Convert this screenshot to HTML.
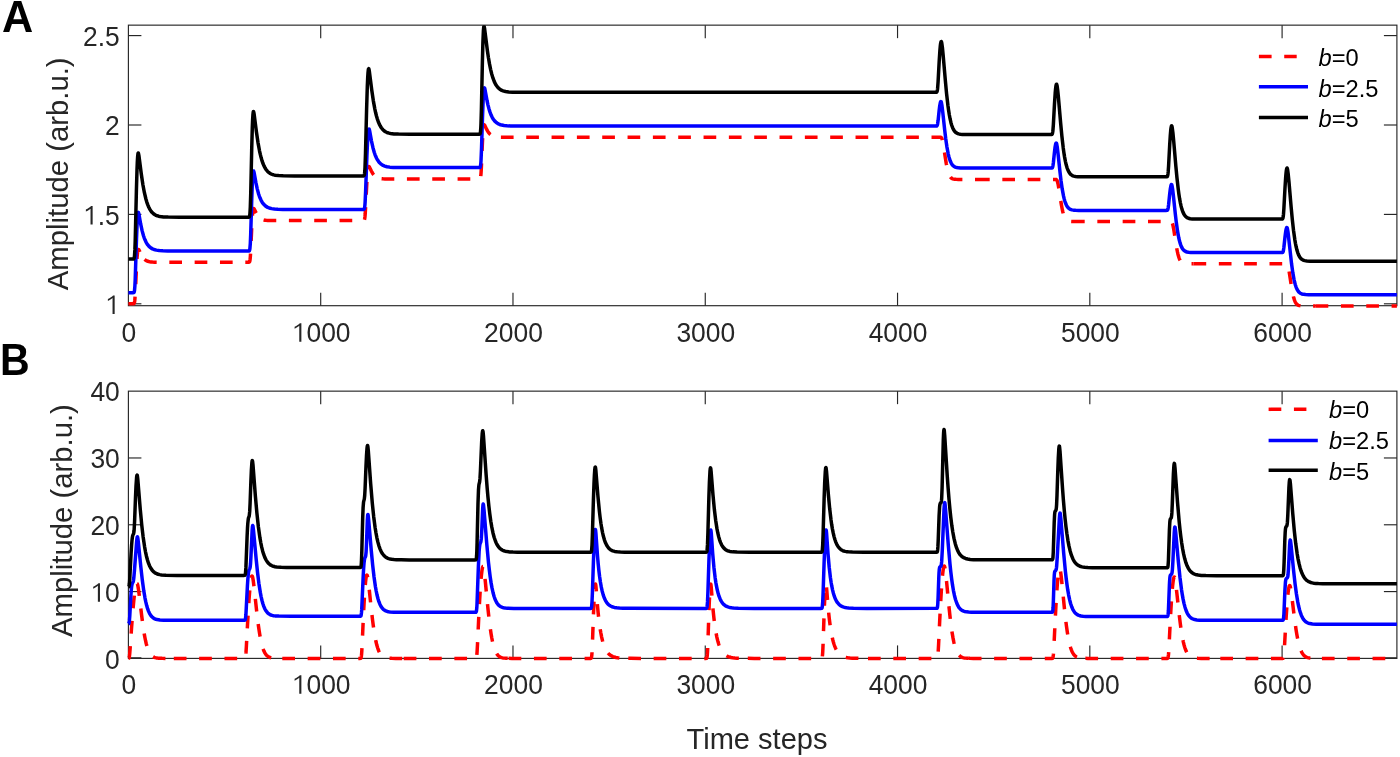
<!DOCTYPE html>
<html><head><meta charset="utf-8"><style>
html,body{margin:0;padding:0;background:#fff;width:1400px;height:757px;overflow:hidden}
svg{display:block;will-change:transform}
text{font-family:"Liberation Sans",sans-serif}
</style></head><body>
<svg width="1400" height="757" viewBox="0 0 1400 757">
<rect width="1400" height="757" fill="#fff"/>
<g>
<defs><clipPath id="cA"><rect x="126.40" y="25.15" width="1272.50" height="283.55"/></clipPath>
<clipPath id="cB"><rect x="126.40" y="391.15" width="1272.50" height="270.25"/></clipPath></defs>
<g stroke="#262626" stroke-width="1.15" fill="none"><line x1="320.70" y1="305.70" x2="320.70" y2="292.70"/><line x1="320.70" y1="25.15" x2="320.70" y2="38.15"/><line x1="512.98" y1="305.70" x2="512.98" y2="292.70"/><line x1="512.98" y1="25.15" x2="512.98" y2="38.15"/><line x1="705.26" y1="305.70" x2="705.26" y2="292.70"/><line x1="705.26" y1="25.15" x2="705.26" y2="38.15"/><line x1="897.54" y1="305.70" x2="897.54" y2="292.70"/><line x1="897.54" y1="25.15" x2="897.54" y2="38.15"/><line x1="1089.82" y1="305.70" x2="1089.82" y2="292.70"/><line x1="1089.82" y1="25.15" x2="1089.82" y2="38.15"/><line x1="1282.10" y1="305.70" x2="1282.10" y2="292.70"/><line x1="1282.10" y1="25.15" x2="1282.10" y2="38.15"/><line x1="128.40" y1="303.80" x2="141.40" y2="303.80"/><line x1="1396.90" y1="303.80" x2="1383.90" y2="303.80"/><line x1="128.40" y1="214.40" x2="141.40" y2="214.40"/><line x1="1396.90" y1="214.40" x2="1383.90" y2="214.40"/><line x1="128.40" y1="125.00" x2="141.40" y2="125.00"/><line x1="1396.90" y1="125.00" x2="1383.90" y2="125.00"/><line x1="128.40" y1="35.60" x2="141.40" y2="35.60"/><line x1="1396.90" y1="35.60" x2="1383.90" y2="35.60"/><rect x="128.40" y="25.15" width="1268.50" height="280.55" fill="none"/></g>
<g stroke="#262626" stroke-width="1.15" fill="none"><line x1="320.70" y1="658.40" x2="320.70" y2="645.40"/><line x1="320.70" y1="391.15" x2="320.70" y2="404.15"/><line x1="512.98" y1="658.40" x2="512.98" y2="645.40"/><line x1="512.98" y1="391.15" x2="512.98" y2="404.15"/><line x1="705.26" y1="658.40" x2="705.26" y2="645.40"/><line x1="705.26" y1="391.15" x2="705.26" y2="404.15"/><line x1="897.54" y1="658.40" x2="897.54" y2="645.40"/><line x1="897.54" y1="391.15" x2="897.54" y2="404.15"/><line x1="1089.82" y1="658.40" x2="1089.82" y2="645.40"/><line x1="1089.82" y1="391.15" x2="1089.82" y2="404.15"/><line x1="1282.10" y1="658.40" x2="1282.10" y2="645.40"/><line x1="1282.10" y1="391.15" x2="1282.10" y2="404.15"/><line x1="128.40" y1="657.80" x2="141.40" y2="657.80"/><line x1="1396.90" y1="657.80" x2="1383.90" y2="657.80"/><line x1="128.40" y1="591.59" x2="141.40" y2="591.59"/><line x1="1396.90" y1="591.59" x2="1383.90" y2="591.59"/><line x1="128.40" y1="524.78" x2="141.40" y2="524.78"/><line x1="1396.90" y1="524.78" x2="1383.90" y2="524.78"/><line x1="128.40" y1="457.97" x2="141.40" y2="457.97"/><line x1="1396.90" y1="457.97" x2="1383.90" y2="457.97"/><rect x="128.40" y="391.15" width="1268.50" height="267.25" fill="none"/></g>
<g font-family="Liberation Sans, sans-serif" font-size="26.4" fill="#262626">
<text transform="translate(121.58 341.80) scale(1 1.040)">0</text><path transform="translate(291.84 341.80) scale(0.01289 -0.01341)" d="M576 0H740V1387H620C530 1290 390 1200 215 1125V975C360 1030 490 1110 576 1190Z"/><text transform="translate(306.52 341.80) scale(1 1.040)">000</text><text transform="translate(484.12 341.80) scale(1 1.040)">2000</text><text transform="translate(676.40 341.80) scale(1 1.040)">3000</text><text transform="translate(868.68 341.80) scale(1 1.040)">4000</text><text transform="translate(1060.96 341.80) scale(1 1.040)">5000</text><text transform="translate(1253.24 341.80) scale(1 1.040)">6000</text><path transform="translate(105.12 314.00) scale(0.01289 -0.01341)" d="M576 0H740V1387H620C530 1290 390 1200 215 1125V975C360 1030 490 1110 576 1190Z"/><path transform="translate(83.10 224.60) scale(0.01289 -0.01341)" d="M576 0H740V1387H620C530 1290 390 1200 215 1125V975C360 1030 490 1110 576 1190Z"/><text transform="translate(97.78 224.60) scale(1 1.040)">.5</text><text transform="translate(105.12 135.20) scale(1 1.040)">2</text><text transform="translate(83.10 45.80) scale(1 1.040)">2.5</text>
<text transform="translate(121.58 693.80) scale(1 1.040)">0</text><path transform="translate(291.84 693.80) scale(0.01289 -0.01341)" d="M576 0H740V1387H620C530 1290 390 1200 215 1125V975C360 1030 490 1110 576 1190Z"/><text transform="translate(306.52 693.80) scale(1 1.040)">000</text><text transform="translate(484.12 693.80) scale(1 1.040)">2000</text><text transform="translate(676.40 693.80) scale(1 1.040)">3000</text><text transform="translate(868.68 693.80) scale(1 1.040)">4000</text><text transform="translate(1060.96 693.80) scale(1 1.040)">5000</text><text transform="translate(1253.24 693.80) scale(1 1.040)">6000</text><text transform="translate(105.12 668.60) scale(1 1.040)">0</text><path transform="translate(90.44 601.79) scale(0.01289 -0.01341)" d="M576 0H740V1387H620C530 1290 390 1200 215 1125V975C360 1030 490 1110 576 1190Z"/><text transform="translate(105.12 601.79) scale(1 1.040)">0</text><text transform="translate(90.44 534.98) scale(1 1.040)">20</text><text transform="translate(90.44 468.17) scale(1 1.040)">30</text><text transform="translate(90.44 401.36) scale(1 1.040)">40</text>
</g>
<g clip-path="url(#cA)">
<path d="M128.40 303.80 L133.10 303.80 L133.70 303.76 L133.90 303.67 L134.00 303.60 L134.20 303.31 L134.40 302.74 L134.50 302.31 L134.70 301.02 L134.90 299.06 L135.20 294.73 L135.50 288.93 L136.50 267.01 L136.80 261.59 L137.10 257.12 L137.40 253.70 L137.70 251.34 L137.80 250.79 L138.00 249.98 L138.20 249.54 L138.30 249.44 L138.40 249.40 L138.50 249.42 L138.70 249.58 L139.00 250.04 L140.90 254.06 L141.50 255.22 L142.10 256.26 L142.60 257.04 L143.10 257.74 L143.60 258.36 L144.20 259.01 L144.60 259.38" fill="none" stroke="#ff0000" stroke-width="3.50" stroke-linejoin="round" stroke-dasharray="12.70 12.63"/>
<path d="M144.60 259.38 L144.90 259.65 L145.60 260.18 L146.30 260.61 L147.10 261.00 L147.90 261.30 L148.80 261.55 L149.80 261.76 L150.90 261.91 L152.50 262.05 L154.50 262.13 L157.10 262.18 L161.10 262.20 L248.30 262.20 L249.00 262.17 L249.30 262.07 L249.50 261.86 L249.60 261.68 L249.80 261.09 L249.90 260.63 L250.10 259.27 L250.20 258.34 L250.40 255.90 L250.80 248.76 L251.60 230.39 L251.90 224.12 L252.20 218.80 L252.50 214.58 L252.70 212.43 L253.00 210.16 L253.10 209.64 L253.30 208.93 L253.40 208.71 L253.50 208.57 L253.60 208.51 L253.70 208.50 L253.90 208.63 L254.20 209.05 L256.10 212.86 L256.70 213.96 L257.30 214.96 L257.80 215.70 L258.30 216.36 L258.80 216.95 L259.40 217.57 L260.10 218.18 L260.80 218.68 L261.50 219.09 L262.30 219.46 L263.10 219.74 L263.60 219.88" fill="none" stroke="#ff0000" stroke-width="3.50" stroke-linejoin="round" stroke-dasharray="12.70 12.63"/>
<path d="M263.60 219.88 L264.00 219.98 L265.00 220.18 L266.10 220.32 L267.70 220.46 L269.70 220.54 L276.10 220.60 L363.00 220.60 L363.70 220.58 L364.00 220.49 L364.20 220.32 L364.40 219.96 L364.60 219.28 L364.70 218.78 L365.00 216.41 L365.20 214.02 L365.60 207.39 L366.40 191.13 L366.80 183.67 L367.20 177.37 L367.50 173.55 L367.80 170.56 L368.10 168.44 L368.40 167.14 L368.60 166.69 L368.70 166.57 L368.80 166.51 L368.90 166.50 L369.10 166.62 L369.30 166.86 L369.50 167.19 L371.40 171.10 L372.00 172.22 L372.60 173.24 L373.10 173.99 L373.60 174.67 L374.10 175.28 L374.70 175.91 L375.40 176.53 L376.10 177.04 L376.80 177.45 L377.60 177.83 L378.40 178.12 L379.30 178.37 L380.30 178.57 L381.40 178.72 L381.60 178.74" fill="none" stroke="#ff0000" stroke-width="3.50" stroke-linejoin="round" stroke-dasharray="12.70 12.63"/>
<path d="M381.60 178.74 L383.00 178.85 L384.90 178.93 L391.10 179.00 L479.00 179.00 L479.60 178.98 L479.90 178.91 L480.10 178.77 L480.20 178.63 L480.40 178.17 L480.50 177.80 L480.70 176.65 L480.80 175.83 L481.00 173.61 L481.20 170.55 L481.40 166.70 L482.40 142.84 L482.70 136.78 L482.90 133.41 L483.20 129.44 L483.50 126.80 L483.60 126.20 L483.80 125.35 L484.00 124.92 L484.10 124.83 L484.20 124.80 L484.30 124.83 L484.50 125.02 L484.80 125.50 L486.70 129.44 L487.40 130.73 L488.00 131.71 L488.70 132.71 L489.40 133.56 L490.10 134.28 L490.80 134.87 L491.60 135.42 L492.50 135.89 L493.40 136.25 L494.40 136.54 L495.50 136.77 L496.80 136.94 L498.30 137.06 L500.20 137.14 L500.90 137.15" fill="none" stroke="#ff0000" stroke-width="3.50" stroke-linejoin="round" stroke-dasharray="12.70 12.63"/>
<path d="M500.90 137.15 L503.80 137.19 L510.70 137.20 L939.30 137.20 L940.30 137.21 L940.70 137.25 L941.00 137.34 L941.30 137.56 L941.60 137.97 L941.80 138.37 L942.20 139.53 L942.70 141.59 L943.10 143.65 L943.60 146.59 L945.40 158.33 L946.30 163.71 L946.80 166.34 L947.20 168.24 L947.60 169.95 L948.10 171.81 L948.60 173.39 L949.10 174.70 L949.60 175.77 L950.10 176.64 L950.70 177.44 L951.30 178.03 L952.00 178.52 L952.70 178.85 L953.60 179.11 L954.70 179.27 L956.10 179.36 L958.20 179.39 L977.00 179.40" fill="none" stroke="#ff0000" stroke-width="3.50" stroke-linejoin="round" stroke-dasharray="12.70 12.63"/>
<path d="M977.00 179.40 L1054.90 179.40 L1055.70 179.41 L1056.10 179.47 L1056.40 179.60 L1056.60 179.76 L1056.90 180.17 L1057.10 180.57 L1057.50 181.73 L1058.00 183.79 L1058.40 185.85 L1058.90 188.79 L1060.70 200.53 L1061.50 205.35 L1062.00 208.04 L1062.40 209.99 L1062.80 211.74 L1063.30 213.66 L1063.80 215.30 L1064.30 216.66 L1064.80 217.78 L1065.40 218.84 L1066.00 219.64 L1066.60 220.23 L1067.30 220.72 L1068.00 221.05 L1068.90 221.31 L1070.00 221.47 L1071.40 221.56 L1072.00 221.57" fill="none" stroke="#ff0000" stroke-width="3.50" stroke-linejoin="round" stroke-dasharray="12.70 12.63"/>
<path d="M1072.00 221.57 L1073.50 221.59 L1170.00 221.60 L1170.80 221.61 L1171.20 221.67 L1171.50 221.80 L1171.70 221.96 L1172.00 222.37 L1172.20 222.77 L1172.60 223.93 L1173.10 225.99 L1173.50 228.05 L1174.00 230.99 L1175.80 242.73 L1176.60 247.55 L1177.10 250.24 L1177.50 252.19 L1177.90 253.94 L1178.40 255.86 L1178.90 257.50 L1179.40 258.86 L1179.90 259.98 L1180.50 261.04 L1181.10 261.84 L1181.70 262.43 L1182.40 262.92 L1183.10 263.25 L1184.00 263.51 L1185.10 263.67 L1186.50 263.76 L1188.60 263.79 L1193.50 263.79" fill="none" stroke="#ff0000" stroke-width="3.50" stroke-linejoin="round" stroke-dasharray="12.70 12.63"/>
<path d="M1193.50 263.79 L1285.30 263.80 L1286.10 263.81 L1286.50 263.85 L1286.80 263.94 L1287.10 264.16 L1287.40 264.57 L1287.60 264.97 L1288.00 266.12 L1288.50 268.18 L1288.90 270.24 L1289.40 273.17 L1291.20 284.88 L1292.10 290.25 L1292.60 292.88 L1293.00 294.77 L1293.40 296.47 L1293.90 298.33 L1294.40 299.90 L1294.90 301.21 L1295.40 302.28 L1295.90 303.14 L1296.50 303.95 L1297.10 304.54 L1297.80 305.03 L1298.50 305.35 L1299.40 305.61 L1300.50 305.77 L1301.90 305.86 L1304.10 305.89 L1315.60 305.90" fill="none" stroke="#ff0000" stroke-width="3.50" stroke-linejoin="round" stroke-dasharray="12.70 12.63"/>
<path d="M1315.60 305.90 L1396.90 305.90" fill="none" stroke="#ff0000" stroke-width="3.50" stroke-linejoin="round" stroke-dasharray="12.70 12.63"/>
<path d="M128.40 292.70 L133.10 292.70 L133.70 292.63 L134.00 292.40 L134.20 291.99 L134.50 290.53 L134.90 285.82 L135.20 279.53 L136.50 238.92 L137.10 224.04 L137.40 218.76 L137.70 215.08 L138.00 213.01 L138.10 212.66 L138.30 212.40 L138.40 212.47 L138.60 212.93 L138.90 214.18 L140.70 224.20 L142.10 230.65 L143.50 235.71 L144.20 237.78 L145.00 239.84 L145.90 241.79 L146.80 243.42 L147.80 244.91 L148.80 246.12 L150.00 247.27 L151.20 248.15 L152.50 248.88 L154.00 249.50 L156.40 250.14 L159.20 250.56 L162.80 250.81 L167.80 250.95 L248.30 251.00 L249.00 250.96 L249.30 250.80 L249.60 250.24 L249.90 248.70 L250.30 243.70 L250.70 234.28 L251.80 197.76 L252.30 184.32 L252.60 178.38 L252.90 174.20 L253.20 171.80 L253.30 171.37 L253.50 171.00 L253.60 171.03 L253.80 171.43 L254.10 172.65 L255.90 182.67 L257.30 189.12 L258.70 194.19 L259.40 196.27 L260.20 198.33 L261.10 200.28 L262.00 201.91 L263.00 203.41 L264.00 204.61 L265.20 205.76 L266.40 206.65 L267.70 207.38 L269.20 208.00 L271.60 208.64 L274.40 209.06 L277.90 209.31 L282.80 209.44 L363.00 209.50 L363.70 209.47 L364.00 209.35 L364.30 208.92 L364.60 207.72 L364.90 205.12 L365.10 202.32 L365.60 191.56 L366.90 155.93 L367.50 143.02 L367.90 136.53 L368.30 131.98 L368.60 129.93 L368.80 129.22 L369.00 129.00 L369.10 129.06 L369.30 129.47 L369.60 130.64 L371.50 141.09 L372.90 147.46 L374.30 152.47 L375.00 154.52 L375.80 156.56 L376.70 158.49 L377.60 160.10 L378.60 161.58 L379.60 162.77 L380.70 163.82 L381.90 164.72 L383.20 165.46 L384.70 166.08 L387.00 166.71 L389.80 167.14 L393.30 167.40 L398.20 167.54 L478.90 167.60 L479.60 167.58 L479.90 167.49 L480.20 167.14 L480.50 166.08 L480.80 163.59 L481.00 160.77 L481.50 149.11 L482.50 117.09 L483.10 101.46 L483.70 91.51 L484.00 88.92 L484.20 88.06 L484.40 87.80 L484.60 88.05 L484.90 89.09 L487.10 101.00 L488.00 105.08 L489.00 108.93 L490.00 112.14 L491.10 115.03 L492.30 117.54 L493.50 119.50 L494.80 121.15 L496.30 122.56 L497.90 123.64 L499.70 124.47 L501.70 125.08 L504.10 125.52 L507.00 125.81 L510.60 125.98 L517.00 126.07 L529.70 126.10 L936.30 126.09 L936.80 125.96 L937.10 125.65 L937.40 124.91 L937.60 124.07 L938.10 120.61 L939.10 110.96 L939.70 106.07 L940.30 102.74 L940.60 101.82 L940.90 101.50 L941.10 101.66 L941.40 102.46 L942.00 105.85 L942.70 111.61 L944.70 130.18 L945.70 138.50 L946.90 146.85 L948.20 153.80 L948.90 156.72 L949.60 159.12 L950.40 161.33 L951.20 163.05 L952.10 164.52 L953.00 165.59 L954.10 166.50 L955.30 167.15 L956.70 167.59 L958.30 167.86 L960.40 168.01 L963.50 168.08 L1050.90 168.10 L1051.90 168.04 L1052.20 167.89 L1052.50 167.45 L1052.80 166.50 L1053.00 165.48 L1053.40 162.50 L1054.40 152.66 L1055.00 147.67 L1055.60 144.27 L1055.90 143.33 L1056.20 143.00 L1056.40 143.16 L1056.70 143.97 L1057.30 147.39 L1058.00 153.22 L1060.00 172.02 L1061.00 180.44 L1062.20 188.89 L1063.50 195.93 L1064.20 198.88 L1064.90 201.31 L1065.70 203.55 L1066.50 205.29 L1067.40 206.78 L1068.30 207.86 L1069.30 208.72 L1070.50 209.39 L1071.90 209.86 L1073.50 210.14 L1075.60 210.31 L1078.70 210.38 L1166.10 210.40 L1167.10 210.34 L1167.40 210.19 L1167.70 209.75 L1168.00 208.80 L1168.20 207.78 L1168.60 204.78 L1169.70 193.92 L1170.30 189.03 L1170.90 185.72 L1171.20 184.81 L1171.40 184.53 L1171.50 184.50 L1171.70 184.67 L1172.00 185.50 L1172.60 188.96 L1173.30 194.85 L1175.30 213.83 L1176.30 222.34 L1177.50 230.88 L1178.70 237.51 L1179.40 240.57 L1180.10 243.10 L1180.90 245.43 L1181.70 247.25 L1182.60 248.80 L1183.50 249.93 L1184.50 250.83 L1185.60 251.49 L1187.00 252.00 L1188.60 252.31 L1190.70 252.50 L1193.80 252.58 L1281.40 252.60 L1282.40 252.55 L1282.70 252.40 L1283.00 251.99 L1283.30 251.09 L1283.50 250.13 L1283.90 247.30 L1285.00 237.00 L1285.60 232.28 L1286.00 229.89 L1286.30 228.58 L1286.60 227.75 L1286.80 227.52 L1286.90 227.50 L1287.10 227.69 L1287.40 228.52 L1288.00 231.95 L1291.60 264.08 L1292.80 272.65 L1294.00 279.35 L1294.60 282.03 L1295.30 284.67 L1296.00 286.83 L1296.80 288.80 L1297.60 290.33 L1298.40 291.49 L1299.30 292.46 L1300.40 293.28 L1301.80 293.93 L1303.50 294.34 L1305.60 294.57 L1308.60 294.67 L1396.90 294.70" fill="none" stroke="#0000ff" stroke-width="3.50" stroke-linejoin="round"/>
<path d="M128.40 259.00 L133.10 259.00 L133.70 258.91 L134.00 258.60 L134.20 258.03 L134.50 256.06 L134.90 249.66 L135.20 241.13 L136.40 190.43 L137.00 169.73 L137.30 162.33 L137.60 157.11 L137.90 154.08 L138.00 153.52 L138.20 153.00 L138.30 153.01 L138.50 153.46 L138.90 155.59 L141.30 174.10 L142.90 184.70 L144.40 192.71 L145.90 199.00 L146.80 202.06 L147.80 204.92 L148.80 207.28 L149.90 209.39 L151.00 211.08 L152.20 212.54 L153.50 213.74 L155.00 214.77 L156.10 215.33 L157.30 215.80 L158.60 216.18 L160.10 216.49 L163.50 216.90 L168.20 217.11 L179.60 217.20 L248.30 217.20 L249.00 217.15 L249.30 216.93 L249.60 216.17 L249.90 214.07 L250.30 207.26 L250.70 194.46 L251.70 149.45 L252.30 127.66 L252.60 120.09 L252.90 114.98 L253.20 112.23 L253.30 111.78 L253.40 111.55 L253.50 111.50 L253.80 112.27 L254.20 114.65 L256.40 131.82 L258.00 142.61 L259.50 150.79 L260.30 154.43 L261.10 157.60 L262.00 160.68 L263.00 163.55 L264.00 165.92 L265.10 168.05 L266.20 169.75 L267.40 171.21 L268.70 172.42 L270.20 173.45 L271.30 174.02 L272.50 174.49 L273.80 174.87 L275.20 175.17 L278.60 175.59 L283.20 175.81 L294.60 175.90 L362.90 175.90 L363.60 175.88 L363.90 175.76 L364.20 175.33 L364.50 174.04 L364.80 170.99 L365.00 167.52 L365.50 153.16 L366.60 109.19 L367.30 86.64 L367.70 77.56 L368.00 72.83 L368.30 69.92 L368.50 68.96 L368.70 68.70 L368.80 68.80 L369.00 69.39 L369.40 71.65 L371.70 89.71 L373.30 100.60 L374.80 108.86 L375.60 112.53 L376.40 115.73 L377.30 118.84 L378.30 121.74 L379.30 124.13 L380.40 126.28 L381.50 127.99 L382.70 129.47 L384.00 130.69 L385.50 131.73 L386.60 132.30 L387.80 132.78 L389.10 133.16 L390.50 133.47 L393.90 133.89 L398.50 134.11 L409.90 134.20 L478.90 134.20 L479.50 134.18 L479.80 134.10 L480.00 133.91 L480.20 133.46 L480.50 131.77 L480.80 127.81 L481.00 123.33 L481.40 109.38 L482.40 61.25 L482.90 42.25 L483.40 30.64 L483.70 27.32 L483.80 26.75 L484.00 26.30 L484.10 26.37 L484.30 26.97 L484.60 28.66 L487.40 50.69 L488.40 57.46 L489.50 63.90 L490.60 69.34 L491.80 74.24 L493.00 78.20 L494.30 81.60 L495.70 84.41 L497.20 86.65 L498.00 87.59 L498.90 88.47 L499.80 89.19 L500.80 89.84 L501.90 90.41 L503.00 90.85 L505.50 91.51 L508.60 91.94 L512.60 92.17 L518.60 92.27 L530.60 92.30 L936.30 92.28 L936.60 92.20 L936.80 92.04 L937.10 91.43 L937.40 90.02 L937.60 88.41 L938.10 81.73 L939.20 61.15 L939.90 50.40 L940.30 45.95 L940.60 43.56 L941.00 41.77 L941.10 41.58 L941.20 41.50 L941.30 41.52 L941.50 41.88 L941.80 43.12 L942.40 47.54 L943.10 54.61 L945.40 81.21 L946.60 93.80 L947.90 105.22 L948.60 110.33 L949.30 114.74 L950.10 118.97 L950.90 122.44 L951.70 125.23 L952.60 127.69 L953.60 129.74 L954.60 131.22 L955.80 132.44 L957.20 133.34 L958.60 133.86 L960.30 134.20 L962.50 134.39 L965.70 134.48 L1050.90 134.50 L1051.60 134.48 L1051.90 134.40 L1052.20 134.10 L1052.50 133.29 L1052.80 131.52 L1053.00 129.62 L1053.40 124.03 L1054.50 103.65 L1055.20 93.00 L1055.60 88.60 L1055.90 86.24 L1056.30 84.46 L1056.40 84.28 L1056.50 84.20 L1056.60 84.23 L1056.80 84.58 L1057.10 85.82 L1057.70 90.22 L1058.40 97.25 L1060.70 123.74 L1061.90 136.28 L1063.20 147.65 L1063.90 152.74 L1064.60 157.12 L1065.40 161.34 L1066.20 164.79 L1067.00 167.57 L1067.90 170.02 L1068.90 172.06 L1069.90 173.54 L1071.00 174.67 L1072.30 175.54 L1073.70 176.10 L1075.50 176.49 L1077.70 176.69 L1080.80 176.78 L1166.10 176.80 L1166.80 176.78 L1167.10 176.69 L1167.40 176.39 L1167.70 175.54 L1168.00 173.69 L1168.20 171.71 L1168.60 165.89 L1169.70 144.78 L1170.30 135.27 L1170.70 130.57 L1171.00 128.03 L1171.40 126.11 L1171.50 125.90 L1171.70 125.81 L1171.90 126.15 L1172.20 127.38 L1172.90 132.73 L1173.70 141.13 L1175.90 166.72 L1176.90 177.26 L1178.20 188.91 L1178.90 194.15 L1179.60 198.67 L1180.30 202.53 L1181.10 206.19 L1181.90 209.15 L1182.80 211.77 L1183.70 213.77 L1184.70 215.41 L1185.80 216.68 L1187.00 217.60 L1188.40 218.26 L1190.20 218.72 L1192.40 218.96 L1195.60 219.07 L1281.40 219.10 L1282.10 219.08 L1282.40 219.00 L1282.70 218.70 L1283.00 217.87 L1283.30 216.07 L1283.50 214.14 L1283.90 208.46 L1285.00 187.76 L1285.70 176.95 L1286.10 172.48 L1286.40 170.07 L1286.70 168.56 L1287.00 168.00 L1287.10 168.02 L1287.30 168.38 L1287.60 169.62 L1288.20 174.05 L1289.00 182.24 L1291.10 206.66 L1292.30 219.43 L1293.50 230.26 L1294.80 239.58 L1295.50 243.62 L1296.20 247.03 L1296.90 249.87 L1297.70 252.52 L1298.50 254.61 L1299.40 256.43 L1300.40 257.91 L1301.50 259.05 L1302.20 259.58 L1303.00 260.03 L1304.70 260.63 L1306.90 260.99 L1310.10 261.16 L1396.90 261.20" fill="none" stroke="#000000" stroke-width="3.50" stroke-linejoin="round"/>
</g>
<g clip-path="url(#cB)">
<path d="M128.40 658.38 L128.70 658.30 L128.90 658.11 L129.10 657.70 L129.20 657.36 L129.40 656.35 L129.50 655.65 L129.70 653.85 L130.10 648.93 L131.50 628.57 L132.40 616.47 L133.30 605.79 L133.80 600.59 L134.20 596.87 L134.60 593.55 L134.90 591.35 L135.30 588.80 L135.60 587.19 L136.00 585.46 L136.30 584.49 L136.50 584.01 L136.70 583.67 L136.90 583.51 L137.00 583.50 L137.10 583.54 L137.20 583.64 L137.30 583.80 L137.60 584.62 L138.00 586.45 L138.40 588.89 L139.20 594.85 L141.60 615.08 L142.80 624.37 L143.50 629.23 L144.20 633.61 L144.80 636.98 L145.50 640.47 L146.20 643.51 L147.00 646.47 L147.80 648.92 L148.20 649.98 L148.70 651.16 L149.10 652.01 L149.60 652.94 L150.00 653.59 L150.50 654.32 L151.00 654.94 L151.50 655.48 L152.10 656.03 L152.70 656.48 L153.50 656.96 L154.30 657.33 L155.20 657.64 L156.30 657.90 L157.40 658.08 L158.70 658.21 L160.20 658.30 L162.10 658.36 L169.80 658.40 L173.80 658.40" fill="none" stroke="#ff0000" stroke-width="3.50" stroke-linejoin="round" stroke-dasharray="12.70 12.63"/>
<path d="M173.80 658.40 L244.10 658.40 L244.70 658.38 L244.90 658.32 L245.00 658.27 L245.20 658.02 L245.30 657.79 L245.50 657.03 L245.60 656.44 L245.80 654.76 L246.00 652.38 L246.40 645.88 L247.50 624.89 L248.30 610.78 L249.00 599.92 L249.70 590.78 L250.30 584.53 L250.60 581.99 L250.90 579.87 L251.20 578.18 L251.50 576.94 L251.70 576.38 L251.80 576.19 L251.90 576.06 L252.00 576.00 L252.10 576.01 L252.20 576.09 L252.30 576.23 L252.40 576.46 L252.60 577.10 L252.80 578.00 L253.00 579.10 L253.40 581.80 L254.20 588.36 L256.60 610.66 L257.80 620.90 L258.50 626.25 L259.20 631.07 L259.80 634.79 L260.50 638.64 L261.20 641.99 L262.00 645.25 L262.80 647.95 L263.20 649.12 L263.70 650.43 L264.10 651.35 L264.60 652.38 L265.00 653.10 L265.50 653.90 L266.00 654.59 L266.50 655.18 L267.10 655.78 L267.70 656.28 L268.50 656.81 L269.30 657.22 L270.20 657.56 L271.20 657.83 L272.30 658.03 L273.60 658.18 L275.10 658.29 L277.00 658.35 L281.40 658.39 L282.30 658.39" fill="none" stroke="#ff0000" stroke-width="3.50" stroke-linejoin="round" stroke-dasharray="12.70 12.63"/>
<path d="M282.30 658.39 L293.10 658.40 L359.80 658.40 L360.30 658.39 L360.60 658.35 L360.80 658.24 L361.00 657.94 L361.20 657.28 L361.30 656.75 L361.50 655.15 L361.60 654.04 L361.80 651.18 L362.20 643.41 L363.20 620.86 L363.80 608.45 L364.40 597.55 L365.00 588.51 L365.50 582.59 L365.80 579.79 L366.00 578.26 L366.30 576.49 L366.50 575.68 L366.70 575.18 L366.80 575.05 L366.90 575.00 L367.00 575.04 L367.10 575.16 L367.20 575.36 L367.50 576.40 L367.80 578.00 L368.20 580.72 L369.00 587.38 L371.40 609.99 L372.60 620.37 L373.30 625.80 L374.00 630.69 L374.60 634.46 L375.30 638.36 L376.00 641.76 L376.80 645.06 L377.60 647.81 L378.00 648.99 L378.50 650.31 L378.90 651.25 L379.40 652.29 L379.80 653.03 L380.30 653.84 L380.80 654.54 L381.30 655.14 L381.90 655.75 L382.50 656.25 L383.30 656.79 L384.10 657.20 L385.00 657.55 L386.00 657.82 L387.10 658.03 L388.40 658.18 L389.90 658.28 L391.80 658.35 L395.70 658.39 L403.70 658.40" fill="none" stroke="#ff0000" stroke-width="3.50" stroke-linejoin="round" stroke-dasharray="12.70 12.63"/>
<path d="M403.70 658.40 L404.40 658.40 L475.10 658.40 L475.60 658.39 L475.90 658.35 L476.10 658.25 L476.30 657.97 L476.50 657.35 L476.60 656.84 L476.80 655.33 L476.90 654.28 L477.10 651.58 L477.50 644.22 L478.60 620.46 L479.40 604.56 L480.10 592.37 L480.80 582.19 L481.40 575.30 L481.90 570.97 L482.20 569.02 L482.50 567.59 L482.70 566.94 L482.80 566.72 L482.90 566.57 L483.00 566.50 L483.10 566.50 L483.20 566.59 L483.30 566.75 L483.50 567.32 L483.70 568.18 L484.10 570.64 L484.50 573.78 L485.40 582.27 L487.20 601.07 L488.00 609.10 L488.90 617.45 L489.70 624.13 L490.40 629.35 L491.10 633.97 L491.80 638.02 L492.50 641.53 L492.90 643.31 L493.40 645.31 L493.90 647.09 L494.40 648.66 L494.90 650.04 L495.50 651.47 L496.00 652.49 L496.60 653.54 L497.20 654.43 L497.80 655.16 L498.50 655.86 L499.20 656.42 L500.00 656.93 L500.80 657.31 L501.70 657.63 L502.80 657.90 L504.30 658.13 L506.10 658.27 L508.40 658.35 L508.60 658.36" fill="none" stroke="#ff0000" stroke-width="3.50" stroke-linejoin="round" stroke-dasharray="12.70 12.63"/>
<path d="M508.60 658.36 L511.90 658.39 L590.30 658.40 L590.80 658.38 L591.00 658.34 L591.10 658.28 L591.30 658.03 L591.40 657.79 L591.60 656.91 L591.80 655.27 L592.00 652.61 L592.20 648.84 L592.40 644.09 L593.40 615.91 L593.80 605.90 L594.10 599.36 L594.50 592.16 L594.80 588.04 L595.10 585.22 L595.30 584.21 L595.40 584.00 L595.50 584.00 L595.60 584.22 L595.70 584.65 L595.80 585.28 L596.00 587.06 L596.30 590.62 L597.10 601.13 L597.50 605.90 L598.10 612.32 L598.80 618.82 L599.40 623.66 L600.10 628.57 L600.80 632.78 L601.60 636.87 L602.00 638.66 L602.50 640.69 L602.90 642.17 L603.40 643.84 L603.90 645.34 L604.40 646.68 L604.90 647.89 L605.40 648.97 L605.90 649.94 L606.50 650.98 L607.10 651.89 L607.70 652.68 L608.30 653.38 L609.00 654.09 L609.70 654.70 L610.50 655.29 L611.60 655.95 L612.90 656.55 L614.30 657.04 L615.90 657.44 L617.60 657.74 L619.60 657.97 L621.90 658.14 L624.60 658.25 L628.30 658.32" fill="none" stroke="#ff0000" stroke-width="3.50" stroke-linejoin="round" stroke-dasharray="12.70 12.63"/>
<path d="M628.30 658.32 L630.60 658.36 L640.90 658.40 L705.70 658.40 L706.20 658.39 L706.50 658.33 L706.70 658.16 L706.80 658.00 L707.00 657.34 L707.10 656.78 L707.30 654.99 L707.50 652.09 L707.70 647.99 L707.90 642.84 L708.90 612.67 L709.20 604.75 L709.50 597.85 L709.80 592.13 L710.10 587.74 L710.30 585.66 L710.40 584.92 L710.50 584.39 L710.60 584.08 L710.70 584.00 L710.80 584.15 L710.90 584.53 L711.00 585.12 L711.20 586.86 L712.70 605.72 L713.30 612.16 L714.00 618.69 L714.60 623.55 L715.30 628.47 L716.00 632.69 L716.80 636.80 L717.20 638.59 L717.70 640.63 L718.10 642.11 L718.60 643.79 L719.10 645.30 L719.60 646.65 L720.10 647.86 L720.60 648.94 L721.10 649.92 L721.70 650.95 L722.30 651.86 L723.00 652.79 L723.60 653.47 L724.30 654.17 L725.00 654.77 L725.80 655.35 L726.90 656.00 L728.20 656.59 L729.60 657.06 L731.10 657.44 L732.80 657.73 L734.80 657.97 L737.10 658.14 L739.80 658.25 L745.30 658.36 L747.80 658.37" fill="none" stroke="#ff0000" stroke-width="3.50" stroke-linejoin="round" stroke-dasharray="12.70 12.63"/>
<path d="M747.80 658.37 L754.30 658.39 L820.90 658.40 L821.60 658.36 L821.80 658.27 L822.00 658.01 L822.20 657.37 L822.30 656.83 L822.50 655.09 L822.70 652.27 L822.90 648.29 L823.10 643.28 L824.10 613.80 L824.70 599.08 L825.10 591.60 L825.40 587.45 L825.60 585.50 L825.70 584.81 L825.80 584.32 L825.90 584.05 L826.00 584.00 L826.10 584.18 L826.20 584.57 L826.30 585.18 L826.50 586.93 L828.00 605.78 L828.60 612.22 L829.20 617.87 L829.80 622.82 L830.50 627.84 L831.20 632.16 L832.00 636.35 L832.40 638.18 L832.90 640.27 L833.30 641.78 L833.80 643.49 L834.30 645.02 L834.80 646.40 L835.30 647.64 L835.80 648.75 L836.30 649.74 L836.90 650.80 L837.50 651.73 L838.20 652.67 L838.80 653.37 L839.50 654.08 L840.20 654.69 L841.00 655.28 L842.10 655.95 L843.40 656.55 L844.80 657.04 L846.30 657.42 L848.00 657.72 L850.00 657.96 L852.30 658.13 L855.00 658.25 L860.20 658.35 L868.00 658.39" fill="none" stroke="#ff0000" stroke-width="3.50" stroke-linejoin="round" stroke-dasharray="12.70 12.63"/>
<path d="M868.00 658.39 L868.60 658.39 L936.80 658.39 L937.10 658.32 L937.30 658.14 L937.50 657.72 L937.60 657.36 L937.80 656.20 L937.90 655.36 L938.20 651.65 L938.60 644.36 L939.70 620.82 L940.50 605.00 L941.30 591.23 L942.00 581.29 L942.60 574.56 L943.10 570.34 L943.40 568.44 L943.70 567.05 L943.90 566.43 L944.00 566.21 L944.10 566.07 L944.20 566.00 L944.30 566.01 L944.40 566.10 L944.50 566.26 L944.70 566.84 L944.90 567.70 L945.30 570.18 L945.70 573.34 L946.60 581.87 L948.40 600.76 L949.20 608.84 L950.10 617.24 L950.90 623.95 L951.60 629.20 L952.30 633.85 L953.00 637.92 L953.70 641.44 L954.10 643.23 L954.60 645.24 L955.10 647.03 L955.60 648.60 L956.10 649.99 L956.70 651.43 L957.20 652.46 L957.80 653.52 L958.40 654.40 L959.00 655.14 L959.70 655.85 L960.40 656.41 L961.20 656.92 L962.00 657.30 L962.90 657.62 L964.00 657.90 L965.50 658.13 L967.40 658.28 L968.80 658.32" fill="none" stroke="#ff0000" stroke-width="3.50" stroke-linejoin="round" stroke-dasharray="12.70 12.63"/>
<path d="M968.80 658.32 L969.80 658.36 L973.30 658.39 L1051.70 658.40 L1052.30 658.38 L1052.50 658.32 L1052.60 658.25 L1052.80 657.98 L1052.90 657.74 L1053.10 656.90 L1053.20 656.26 L1053.40 654.43 L1053.60 651.83 L1054.00 644.74 L1055.10 621.84 L1055.90 606.44 L1056.60 594.60 L1057.30 584.63 L1057.90 577.80 L1058.20 575.04 L1058.50 572.72 L1058.80 570.88 L1059.10 569.52 L1059.30 568.91 L1059.40 568.71 L1059.50 568.57 L1059.60 568.50 L1059.70 568.51 L1059.80 568.59 L1059.90 568.76 L1060.00 569.00 L1060.20 569.70 L1060.50 571.26 L1060.90 574.03 L1061.40 578.25 L1061.90 582.96 L1064.50 609.23 L1065.10 614.82 L1065.70 620.05 L1066.50 626.40 L1067.30 632.00 L1068.10 636.84 L1068.90 640.97 L1069.30 642.79 L1069.80 644.84 L1070.30 646.66 L1070.80 648.28 L1071.30 649.70 L1071.80 650.95 L1072.30 652.04 L1072.90 653.16 L1073.50 654.10 L1074.10 654.89 L1074.70 655.55 L1075.40 656.17 L1076.10 656.67 L1076.90 657.11 L1077.70 657.45 L1078.60 657.73 L1079.30 657.89 L1080.10 658.03 L1082.00 658.23 L1084.40 658.34 L1085.40 658.35" fill="none" stroke="#ff0000" stroke-width="3.50" stroke-linejoin="round" stroke-dasharray="12.70 12.63"/>
<path d="M1085.40 658.35 L1087.80 658.39 L1166.80 658.40 L1167.40 658.38 L1167.60 658.32 L1167.70 658.26 L1167.90 657.99 L1168.00 657.75 L1168.20 656.93 L1168.30 656.30 L1168.50 654.50 L1168.70 651.95 L1169.10 645.00 L1170.10 624.65 L1170.80 611.45 L1171.50 599.88 L1172.10 591.56 L1172.40 588.03 L1172.70 584.94 L1173.20 580.85 L1173.50 579.06 L1173.80 577.79 L1174.00 577.27 L1174.10 577.11 L1174.20 577.02 L1174.30 577.00 L1174.40 577.06 L1174.60 577.40 L1174.90 578.44 L1175.20 580.00 L1175.60 582.66 L1176.10 586.59 L1176.60 590.92 L1179.00 612.96 L1180.20 622.88 L1181.00 628.72 L1181.70 633.27 L1182.40 637.29 L1183.20 641.28 L1183.60 643.03 L1184.10 645.02 L1184.50 646.46 L1185.00 648.07 L1185.40 649.23 L1185.90 650.52 L1186.40 651.65 L1186.90 652.63 L1187.40 653.49 L1188.00 654.37 L1188.60 655.11 L1189.20 655.72 L1189.80 656.23 L1190.50 656.71 L1191.20 657.09 L1192.00 657.43 L1192.70 657.66 L1193.50 657.86 L1194.40 658.02 L1195.40 658.15 L1197.80 658.31 L1201.20 658.38 L1220.30 658.39" fill="none" stroke="#ff0000" stroke-width="3.50" stroke-linejoin="round" stroke-dasharray="12.70 12.63"/>
<path d="M1220.30 658.39 L1282.20 658.40 L1282.80 658.38 L1283.10 658.27 L1283.30 658.03 L1283.40 657.82 L1283.60 657.08 L1283.70 656.52 L1283.90 654.91 L1284.10 652.63 L1284.50 646.40 L1285.50 628.17 L1286.20 616.35 L1286.90 605.99 L1287.50 598.54 L1287.80 595.38 L1288.10 592.61 L1288.60 588.95 L1288.90 587.34 L1289.20 586.21 L1289.40 585.74 L1289.50 585.59 L1289.60 585.51 L1289.70 585.50 L1289.80 585.55 L1290.00 585.86 L1290.30 586.79 L1290.60 588.19 L1291.00 590.57 L1291.80 596.38 L1294.20 616.13 L1295.40 625.19 L1296.10 629.93 L1296.80 634.20 L1297.40 637.49 L1298.10 640.90 L1298.80 643.87 L1299.60 646.75 L1300.40 649.15 L1301.20 651.12 L1301.60 651.96 L1302.10 652.90 L1302.50 653.56 L1303.00 654.28 L1303.50 654.91 L1304.00 655.45 L1304.60 656.00 L1305.20 656.46 L1306.00 656.94 L1306.80 657.31 L1307.70 657.63 L1308.70 657.87 L1309.80 658.06 L1311.10 658.20 L1312.60 658.29 L1314.40 658.35 L1321.90 658.40" fill="none" stroke="#ff0000" stroke-width="3.50" stroke-linejoin="round" stroke-dasharray="12.70 12.63"/>
<path d="M1321.90 658.40 L1322.20 658.40 L1396.90 658.40" fill="none" stroke="#ff0000" stroke-width="3.50" stroke-linejoin="round" stroke-dasharray="12.70 12.63"/>
<path d="M128.40 623.98 L128.80 623.74 L129.00 623.31 L129.20 622.44 L129.40 620.93 L129.80 615.65 L130.90 595.48 L131.40 588.84 L131.70 586.15 L132.00 584.42 L132.30 583.44 L132.90 582.44 L133.20 581.71 L133.50 580.34 L133.80 578.06 L134.40 571.20 L136.60 542.12 L137.00 538.23 L137.20 537.15 L137.40 536.80 L137.60 537.16 L137.80 538.10 L138.30 541.95 L140.90 567.61 L142.40 580.84 L143.70 590.37 L145.00 598.05 L145.80 601.93 L146.70 605.61 L147.60 608.63 L148.50 611.10 L149.50 613.30 L150.60 615.16 L151.70 616.56 L153.00 617.76 L153.90 618.37 L154.90 618.88 L155.90 619.27 L157.10 619.60 L159.90 620.03 L163.70 620.23 L172.80 620.30 L244.10 620.30 L244.70 620.28 L245.00 620.14 L245.30 619.59 L245.50 618.70 L245.90 614.79 L247.40 586.15 L247.80 579.93 L248.20 575.13 L248.50 572.54 L248.90 570.40 L249.20 569.56 L249.80 568.53 L250.10 567.46 L250.50 564.04 L251.00 555.40 L252.10 530.89 L252.40 526.91 L252.50 526.15 L252.70 525.50 L252.80 525.57 L253.00 526.32 L253.50 530.36 L256.20 559.50 L257.60 572.97 L258.90 583.40 L260.30 592.39 L261.10 596.56 L262.00 600.50 L262.90 603.75 L263.80 606.39 L264.80 608.73 L265.80 610.56 L266.90 612.10 L268.20 613.41 L269.10 614.08 L270.00 614.60 L271.00 615.03 L272.20 615.41 L273.50 615.68 L275.00 615.89 L278.80 616.12 L290.90 616.20 L359.80 616.20 L360.60 616.14 L360.90 615.88 L361.20 614.91 L361.50 612.46 L361.70 609.67 L363.20 575.99 L363.60 568.85 L364.00 563.46 L364.30 560.66 L364.60 558.87 L364.90 557.85 L365.50 556.62 L365.70 555.82 L366.10 551.97 L366.50 543.64 L367.30 520.96 L367.60 515.99 L367.70 515.13 L367.80 514.64 L367.90 514.50 L368.00 514.66 L368.20 515.66 L368.60 519.25 L371.30 550.84 L372.70 565.43 L374.00 576.75 L375.40 586.49 L376.20 591.01 L377.10 595.28 L378.00 598.80 L378.90 601.67 L379.90 604.21 L380.90 606.19 L382.00 607.85 L383.30 609.28 L384.20 610.00 L385.10 610.56 L386.10 611.03 L387.30 611.44 L388.60 611.74 L390.10 611.96 L393.90 612.21 L406.80 612.30 L475.10 612.30 L475.90 612.23 L476.20 611.91 L476.50 610.73 L476.80 607.74 L477.00 604.36 L478.40 566.16 L479.10 551.97 L479.40 548.02 L479.80 544.75 L480.10 543.50 L480.70 542.21 L480.90 541.52 L481.30 538.41 L481.70 531.76 L482.70 508.41 L482.90 505.65 L483.00 504.77 L483.20 504.00 L483.30 504.07 L483.50 504.94 L484.00 509.58 L486.80 544.32 L488.50 562.58 L489.30 569.81 L490.20 576.87 L491.10 582.88 L492.00 587.91 L493.00 592.50 L494.10 596.49 L495.30 599.81 L496.60 602.44 L497.30 603.54 L498.00 604.44 L498.70 605.19 L499.50 605.88 L500.40 606.50 L501.30 606.97 L502.30 607.36 L503.50 607.70 L505.30 608.02 L507.40 608.21 L513.90 608.38 L590.30 608.40 L590.80 608.38 L591.10 608.27 L591.40 607.73 L591.60 606.78 L592.00 602.07 L592.40 592.78 L593.40 562.17 L594.10 544.46 L594.70 534.00 L595.00 530.84 L595.30 529.50 L595.40 529.52 L595.60 530.29 L595.90 533.09 L597.50 555.83 L598.20 563.90 L598.90 570.73 L599.60 576.52 L600.40 582.05 L601.30 587.13 L602.20 591.23 L603.20 594.87 L604.30 597.99 L605.50 600.57 L606.90 602.79 L608.40 604.48 L609.20 605.16 L610.10 605.78 L612.00 606.74 L614.30 607.44 L616.60 607.84 L619.40 608.11 L623.00 608.28 L627.90 608.36 L705.80 608.40 L706.30 608.38 L706.60 608.26 L706.90 607.72 L707.10 606.74 L707.50 601.93 L707.90 592.44 L708.90 561.31 L709.50 545.77 L709.90 537.87 L710.20 533.51 L710.50 530.76 L710.70 530.01 L710.80 530.00 L711.00 530.72 L711.30 533.48 L712.70 553.54 L713.90 567.18 L715.10 577.42 L715.80 582.18 L716.50 586.20 L717.30 590.05 L718.20 593.59 L719.10 596.45 L720.10 598.98 L721.20 601.15 L722.30 602.82 L723.60 604.31 L725.00 605.47 L726.10 606.14 L727.30 606.70 L728.60 607.16 L730.00 607.51 L731.60 607.79 L733.50 608.01 L738.30 608.28 L754.40 608.40 L820.90 608.40 L821.70 608.33 L822.00 608.00 L822.30 606.79 L822.70 602.11 L823.10 592.88 L824.10 562.46 L824.80 544.86 L825.40 534.47 L825.70 531.33 L826.00 530.00 L826.10 530.02 L826.30 530.78 L826.60 533.56 L828.00 553.62 L829.20 567.23 L830.40 577.46 L831.10 582.21 L831.80 586.23 L832.60 590.08 L833.40 593.25 L834.30 596.18 L835.30 598.77 L836.40 600.99 L837.50 602.69 L838.80 604.21 L840.20 605.40 L841.30 606.09 L842.50 606.66 L843.80 607.13 L845.20 607.49 L846.80 607.78 L848.70 608.00 L853.40 608.27 L866.90 608.39 L936.80 608.37 L937.00 608.30 L937.20 608.06 L937.40 607.44 L937.60 606.09 L937.80 603.62 L938.10 597.32 L938.80 577.25 L939.00 573.10 L939.30 569.26 L939.50 567.96 L939.70 567.29 L940.00 566.87 L940.80 566.25 L941.10 565.64 L941.40 564.19 L941.70 561.21 L942.30 550.01 L944.00 509.30 L944.40 503.64 L944.50 502.96 L944.60 502.58 L944.70 502.50 L944.80 502.69 L945.00 503.74 L945.50 508.69 L948.30 545.12 L950.00 564.26 L950.80 571.84 L951.70 579.25 L952.50 584.90 L953.40 590.28 L954.40 595.19 L955.50 599.47 L956.70 603.04 L957.90 605.69 L958.60 606.90 L959.30 607.90 L960.00 608.73 L960.80 609.50 L961.70 610.18 L962.60 610.70 L963.60 611.14 L964.70 611.49 L966.50 611.86 L968.60 612.08 L971.30 612.22 L975.20 612.28 L1051.60 612.30 L1052.10 612.28 L1052.40 612.13 L1052.60 611.76 L1052.80 610.81 L1053.10 607.27 L1053.40 600.10 L1054.00 580.97 L1054.30 574.95 L1054.50 572.85 L1054.70 571.79 L1055.00 571.16 L1055.80 570.44 L1056.20 569.39 L1056.50 567.51 L1056.70 565.51 L1057.30 556.29 L1059.30 519.22 L1059.70 514.31 L1059.90 513.19 L1060.00 513.00 L1060.10 513.06 L1060.30 513.80 L1060.80 518.09 L1063.70 553.39 L1065.40 571.38 L1066.20 578.49 L1067.00 584.73 L1067.80 590.14 L1068.60 594.77 L1069.60 599.59 L1070.60 603.45 L1071.70 606.79 L1072.90 609.54 L1074.20 611.71 L1074.90 612.60 L1075.60 613.34 L1076.40 614.02 L1077.30 614.63 L1078.20 615.09 L1079.20 615.48 L1081.00 615.93 L1083.10 616.22 L1085.80 616.39 L1089.70 616.47 L1166.80 616.50 L1167.30 616.48 L1167.60 616.33 L1167.90 615.66 L1168.10 614.48 L1168.40 610.74 L1169.40 585.09 L1169.60 581.19 L1169.90 577.45 L1170.10 576.12 L1170.40 575.19 L1170.60 574.94 L1171.40 574.37 L1171.80 573.68 L1172.10 572.33 L1172.40 569.58 L1172.90 561.35 L1174.20 533.41 L1174.60 528.16 L1174.70 527.50 L1174.90 527.00 L1175.00 527.12 L1175.20 527.97 L1175.70 532.16 L1178.40 562.09 L1180.00 577.70 L1181.50 589.50 L1182.30 594.68 L1183.10 599.13 L1184.00 603.35 L1185.00 607.18 L1186.10 610.50 L1187.20 613.05 L1188.40 615.14 L1189.70 616.77 L1191.10 617.99 L1191.90 618.49 L1192.80 618.94 L1194.60 619.54 L1196.80 619.93 L1199.50 620.16 L1203.30 620.26 L1282.20 620.30 L1282.70 620.28 L1283.00 620.17 L1283.30 619.63 L1283.50 618.69 L1283.90 614.12 L1284.90 590.62 L1285.40 582.53 L1285.60 580.75 L1285.90 579.28 L1286.20 578.68 L1287.10 578.06 L1287.50 577.51 L1287.80 576.45 L1288.00 575.08 L1288.50 568.31 L1289.60 545.29 L1289.90 541.42 L1290.00 540.67 L1290.20 540.00 L1290.30 540.04 L1290.50 540.72 L1291.00 544.45 L1293.70 571.56 L1295.10 584.09 L1296.40 593.80 L1297.80 602.15 L1298.60 606.03 L1299.50 609.70 L1300.40 612.72 L1301.30 615.18 L1302.30 617.36 L1303.30 619.06 L1304.40 620.48 L1305.70 621.71 L1306.60 622.33 L1307.50 622.81 L1308.50 623.21 L1309.70 623.56 L1312.40 624.00 L1316.20 624.22 L1325.30 624.30 L1396.90 624.30" fill="none" stroke="#0000ff" stroke-width="3.50" stroke-linejoin="round"/>
<path d="M128.40 586.98 L128.60 586.91 L128.80 586.73 L129.10 585.92 L129.40 583.87 L129.60 581.54 L131.10 552.87 L131.60 545.07 L132.00 540.34 L132.30 537.76 L132.60 536.01 L132.90 534.96 L133.50 533.85 L133.70 533.25 L133.90 532.16 L134.10 530.29 L134.60 521.22 L135.50 497.22 L136.00 486.09 L136.60 477.36 L136.90 475.35 L137.10 475.00 L137.20 475.12 L137.40 475.93 L137.80 479.27 L140.20 508.65 L141.70 524.54 L143.10 536.63 L144.60 546.84 L145.50 551.77 L146.40 555.94 L147.40 559.78 L148.40 562.92 L149.50 565.69 L150.70 568.06 L152.00 570.01 L153.40 571.56 L154.50 572.46 L155.60 573.17 L156.80 573.75 L158.20 574.24 L159.70 574.62 L161.50 574.91 L166.00 575.25 L177.00 575.39 L244.00 575.40 L244.70 575.37 L245.00 575.18 L245.30 574.39 L245.50 573.13 L245.90 567.63 L247.10 536.45 L247.50 528.04 L247.80 523.37 L248.30 518.77 L248.50 517.86 L249.10 516.30 L249.30 515.42 L249.70 511.39 L250.10 503.17 L250.90 480.94 L251.40 469.53 L251.90 462.39 L252.10 460.99 L252.30 460.50 L252.40 460.59 L252.60 461.39 L253.00 464.92 L255.40 496.26 L256.90 513.22 L258.40 526.94 L259.90 537.65 L260.80 542.82 L261.70 547.18 L262.70 551.20 L263.70 554.48 L264.80 557.38 L266.00 559.85 L267.30 561.88 L268.70 563.50 L269.80 564.44 L270.90 565.18 L272.10 565.78 L273.50 566.30 L275.00 566.69 L276.80 566.99 L281.20 567.34 L286.50 567.46 L296.50 567.50 L359.90 567.50 L360.40 567.47 L360.60 567.39 L360.90 566.88 L361.10 565.87 L361.30 563.84 L361.50 560.34 L361.80 551.92 L362.70 517.75 L363.10 507.69 L363.50 502.56 L363.70 501.33 L364.30 499.09 L364.70 495.50 L365.10 488.26 L366.00 465.92 L366.50 455.56 L367.00 448.43 L367.30 446.09 L367.50 445.50 L367.60 445.51 L367.70 445.72 L367.90 446.73 L368.30 450.61 L370.70 484.02 L372.30 503.16 L373.70 516.69 L375.10 527.43 L376.00 533.04 L376.90 537.77 L377.90 542.14 L378.90 545.71 L380.00 548.86 L381.20 551.56 L382.50 553.77 L383.90 555.53 L385.00 556.56 L386.10 557.36 L387.30 558.02 L388.70 558.59 L390.20 559.01 L392.00 559.34 L394.00 559.57 L396.40 559.73 L401.10 559.85 L409.20 559.90 L475.10 559.90 L475.80 559.84 L476.00 559.67 L476.20 559.19 L476.40 558.04 L476.60 555.73 L476.80 551.73 L477.10 542.11 L478.00 503.10 L478.50 489.67 L478.90 484.97 L479.10 483.90 L479.60 482.01 L480.00 478.44 L480.40 471.26 L481.70 441.06 L482.20 433.77 L482.50 431.39 L482.70 430.80 L482.80 430.82 L482.90 431.06 L483.10 432.15 L483.50 436.27 L486.10 474.47 L487.10 487.33 L488.00 497.51 L488.90 506.37 L489.80 514.01 L490.80 521.19 L491.80 527.15 L493.00 532.94 L494.20 537.49 L495.50 541.28 L496.20 542.92 L497.00 544.52 L497.80 545.85 L498.60 546.96 L499.50 548.00 L500.50 548.91 L501.50 549.64 L502.60 550.26 L503.80 550.77 L505.10 551.18 L507.20 551.61 L509.80 551.91 L513.00 552.08 L517.40 552.16 L590.30 552.20 L590.80 552.18 L591.10 552.05 L591.40 551.44 L591.60 550.36 L592.00 545.03 L592.40 534.52 L593.40 500.24 L594.00 483.40 L594.40 475.04 L594.70 470.54 L595.00 467.80 L595.20 467.04 L595.30 467.00 L595.40 467.18 L595.60 468.14 L595.90 470.80 L597.90 495.89 L599.40 511.39 L600.10 517.33 L600.90 523.19 L601.70 528.17 L602.50 532.37 L603.40 536.28 L604.40 539.79 L605.50 542.81 L606.70 545.30 L607.90 547.16 L609.30 548.73 L610.10 549.40 L610.90 549.95 L612.70 550.83 L614.70 551.41 L617.20 551.81 L620.30 552.04 L624.70 552.16 L705.80 552.20 L706.30 552.18 L706.60 552.04 L706.90 551.37 L707.10 550.20 L707.50 544.41 L707.90 533.03 L708.90 496.63 L709.40 482.19 L710.00 470.95 L710.30 468.32 L710.50 467.80 L710.60 467.90 L710.80 468.75 L711.10 471.33 L713.00 495.08 L714.40 509.81 L715.70 520.58 L717.00 528.89 L717.80 532.97 L718.60 536.39 L719.50 539.56 L720.50 542.38 L721.60 544.79 L722.70 546.64 L723.90 548.15 L725.30 549.42 L726.30 550.08 L727.30 550.59 L728.50 551.04 L729.80 551.40 L732.90 551.87 L737.10 552.10 L749.70 552.20 L821.60 552.16 L821.80 552.05 L822.00 551.73 L822.30 550.31 L822.70 544.85 L823.10 534.10 L824.20 496.09 L824.70 482.41 L825.30 471.32 L825.60 468.40 L825.70 467.87 L825.80 467.57 L825.90 467.50 L826.00 467.65 L826.20 468.58 L826.50 471.21 L828.40 495.00 L829.70 508.81 L831.00 519.80 L831.70 524.66 L832.40 528.85 L833.20 532.94 L834.00 536.36 L834.90 539.54 L835.90 542.36 L836.90 544.59 L838.00 546.48 L839.20 548.04 L840.60 549.34 L841.60 550.02 L842.60 550.54 L843.80 551.01 L845.10 551.37 L846.50 551.64 L848.20 551.86 L852.40 552.10 L863.90 552.20 L936.80 552.18 L937.00 552.12 L937.20 551.93 L937.50 551.00 L937.70 549.49 L937.90 546.90 L938.20 540.67 L939.10 515.52 L939.60 506.98 L939.80 505.18 L940.10 503.73 L940.40 503.15 L941.00 502.61 L941.30 501.76 L941.50 500.38 L941.70 497.80 L942.10 487.56 L943.30 439.73 L943.60 432.94 L943.80 430.43 L944.00 429.50 L944.10 429.58 L944.30 430.64 L944.70 435.30 L947.20 475.33 L948.10 487.99 L949.00 499.21 L949.90 509.00 L950.80 517.44 L951.80 525.38 L952.80 531.99 L954.00 538.40 L955.20 543.44 L956.50 547.65 L957.90 551.05 L958.70 552.56 L959.50 553.83 L960.30 554.88 L961.20 555.86 L962.20 556.72 L963.20 557.41 L964.30 557.99 L965.50 558.47 L967.60 559.03 L970.20 559.41 L973.50 559.64 L978.00 559.76 L1051.70 559.80 L1052.20 559.77 L1052.50 559.57 L1052.80 558.63 L1053.00 557.00 L1053.30 551.90 L1054.20 522.65 L1054.60 514.63 L1054.80 512.70 L1055.00 511.69 L1055.20 511.20 L1055.80 510.53 L1056.10 509.66 L1056.40 507.37 L1056.60 504.55 L1057.00 495.32 L1057.80 470.51 L1058.30 457.56 L1058.80 448.99 L1059.10 446.46 L1059.30 446.00 L1059.40 446.14 L1059.60 447.09 L1060.00 451.14 L1062.50 488.19 L1063.40 500.06 L1064.30 510.59 L1065.10 518.84 L1066.00 526.93 L1066.90 533.85 L1067.90 540.33 L1069.00 546.16 L1070.20 551.22 L1071.40 555.18 L1072.80 558.68 L1073.50 560.07 L1074.30 561.41 L1075.10 562.53 L1075.90 563.46 L1076.80 564.32 L1077.80 565.09 L1078.80 565.69 L1079.90 566.21 L1082.00 566.87 L1084.60 567.33 L1087.80 567.60 L1092.30 567.74 L1166.80 567.80 L1167.30 567.77 L1167.60 567.60 L1167.90 566.78 L1168.10 565.35 L1168.40 560.81 L1169.40 530.15 L1169.80 522.47 L1170.00 520.52 L1170.20 519.44 L1170.50 518.74 L1171.10 518.13 L1171.40 517.30 L1171.70 515.11 L1171.90 512.41 L1172.30 503.66 L1173.40 473.65 L1173.90 465.62 L1174.10 464.01 L1174.30 463.40 L1174.40 463.46 L1174.60 464.26 L1175.00 467.93 L1177.50 502.15 L1179.20 521.83 L1180.00 529.57 L1180.80 536.38 L1181.70 543.00 L1182.60 548.64 L1183.60 553.88 L1184.70 558.57 L1185.90 562.63 L1187.10 565.78 L1188.40 568.39 L1189.10 569.51 L1189.90 570.59 L1190.70 571.49 L1191.50 572.24 L1192.40 572.93 L1193.40 573.55 L1194.40 574.03 L1195.50 574.44 L1198.10 575.06 L1201.30 575.43 L1205.80 575.62 L1216.60 575.70 L1282.10 575.70 L1282.70 575.68 L1283.00 575.52 L1283.30 574.80 L1283.50 573.54 L1283.80 569.51 L1284.10 562.34 L1284.80 540.59 L1285.20 532.09 L1285.40 529.61 L1285.70 527.60 L1286.00 526.82 L1286.60 526.28 L1286.90 525.71 L1287.20 524.19 L1287.40 522.19 L1287.80 515.09 L1288.90 487.95 L1289.30 481.93 L1289.50 480.28 L1289.70 479.60 L1289.80 479.62 L1290.00 480.30 L1290.40 483.68 L1292.80 514.23 L1294.30 530.77 L1295.70 543.35 L1297.20 553.98 L1298.10 559.11 L1299.00 563.44 L1300.00 567.44 L1301.00 570.71 L1302.10 573.60 L1303.30 576.06 L1304.60 578.09 L1306.00 579.70 L1307.10 580.65 L1308.20 581.38 L1309.40 581.98 L1310.80 582.50 L1312.30 582.88 L1314.00 583.18 L1316.00 583.39 L1318.40 583.54 L1322.70 583.65 L1329.50 583.69 L1396.90 583.70" fill="none" stroke="#000000" stroke-width="3.50" stroke-linejoin="round"/>
</g>
<g font-family="Liberation Sans, sans-serif" font-size="29.3" fill="#262626">
<text text-anchor="middle" transform="translate(68.4 173.8) rotate(-90)">Amplitude (arb.u.)</text>
<text text-anchor="middle" transform="translate(71.6 520.55) rotate(-90)">Amplitude (arb.u.)</text>
<text text-anchor="middle" x="757.0" y="748.8" font-size="29.05">Time steps</text>
</g>
<g font-family="Liberation Sans, sans-serif" font-weight="bold" font-size="43.2" fill="#000">
<text transform="translate(2.1 32.2) scale(1 1.035)">A</text>
<text transform="translate(-0.1 375.0) scale(0.95 1.022)">B</text>
</g>
<line x1="1258.90" y1="56.60" x2="1296.70" y2="56.60" stroke="#ff0000" stroke-width="3.50" stroke-dasharray="12.70 12.63"/><text x="1318.60" y="65.70" font-family="Liberation Sans, sans-serif" font-size="23.7" fill="#000"><tspan font-style="italic">b</tspan>=0</text><line x1="1258.90" y1="86.70" x2="1308.00" y2="86.70" stroke="#0000ff" stroke-width="3.50"/><text x="1318.60" y="96.70" font-family="Liberation Sans, sans-serif" font-size="23.7" fill="#000"><tspan font-style="italic">b</tspan>=2.5</text><line x1="1258.90" y1="117.60" x2="1308.00" y2="117.60" stroke="#000000" stroke-width="3.50"/><text x="1318.60" y="127.30" font-family="Liberation Sans, sans-serif" font-size="23.7" fill="#000"><tspan font-style="italic">b</tspan>=5</text>
<line x1="1268.60" y1="409.30" x2="1306.40" y2="409.30" stroke="#ff0000" stroke-width="3.50" stroke-dasharray="12.70 12.63"/><text x="1329.10" y="417.90" font-family="Liberation Sans, sans-serif" font-size="23.7" fill="#000"><tspan font-style="italic">b</tspan>=0</text><line x1="1268.60" y1="440.40" x2="1317.80" y2="440.40" stroke="#0000ff" stroke-width="3.50"/><text x="1329.10" y="448.90" font-family="Liberation Sans, sans-serif" font-size="23.7" fill="#000"><tspan font-style="italic">b</tspan>=2.5</text><line x1="1268.60" y1="470.20" x2="1317.80" y2="470.20" stroke="#000000" stroke-width="3.50"/><text x="1329.10" y="479.80" font-family="Liberation Sans, sans-serif" font-size="23.7" fill="#000"><tspan font-style="italic">b</tspan>=5</text>
</g>
</svg>
</body></html>
